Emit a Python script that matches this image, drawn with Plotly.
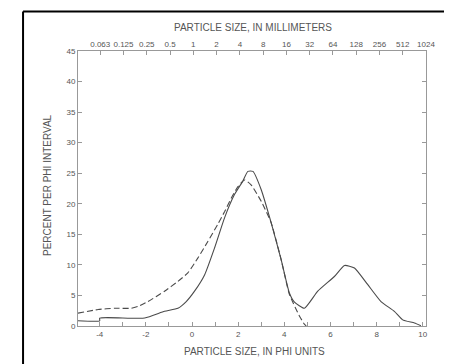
import plotly.graph_objects as go

# Sample with bimodal distribution (solid)
solid_phi = [-4.94, -4.0, -4.0, -2.05, -1.19, -0.61, -0.25, 0.11, 0.55, 0.98, 1.41, 1.84, 2.20,
             2.42, 2.64, 3.0, 3.43, 3.86, 4.22, 4.44, 4.87, 5.45, 6.17, 6.61, 7.04, 7.61,
             8.19, 8.77, 9.13, 9.64, 9.92]
solid_pct = [0.85, 0.85, 1.3, 1.3, 2.4, 2.9, 4.0, 5.7, 8.4, 12.8, 17.7, 21.5, 23.7,
             25.3, 25.3, 22.3, 16.9, 10.9, 5.4, 3.9, 2.9, 5.7, 8.1, 9.9, 9.5, 6.8,
             4.0, 2.4, 1.0, 0.5, 0.05]

# Sample with unimodal distribution (dashed)
dash_phi = [-4.94, -4.07, -3.35, -2.63, -2.34, -1.91, -1.19, -0.61, -0.18, 0.25, 0.68, 1.11,
            1.41, 1.70, 1.99, 2.28, 2.56, 3.0, 3.43, 3.86, 4.22, 4.66, 4.87, 4.95]
dash_pct = [2.1, 2.7, 2.9, 2.9, 3.2, 4.0, 5.7, 7.3, 8.7, 11.1, 13.8, 16.6,
            18.7, 20.9, 22.8, 23.9, 23.1, 20.4, 16.9, 10.9, 5.2, 1.6, 0.3, 0.0]

mm_labels = ["0.063", "0.125", "0.25", "0.5", "1", "2", "4", "8", "16", "32",
             "64", "128", "256", "512", "1024"]
mm_positions = list(range(len(mm_labels)))

y_ticks = [0, 5, 10, 15, 20, 25, 30, 35, 40, 45]

FONT = "Liberation Sans, Arial, sans-serif"
TXT = "#555555"
AX = "#999999"
LINE = "#4a4a4a"

fig = go.Figure()
fig.add_trace(go.Scatter(x=solid_phi, y=solid_pct, mode="lines",
                         line=dict(color=LINE, width=1.1, shape="spline", smoothing=0.5),
                         showlegend=False))
fig.add_trace(go.Scatter(x=dash_phi, y=dash_pct, mode="lines",
                         line=dict(color=LINE, width=1.1, dash="6px,3px", shape="spline", smoothing=0.5),
                         showlegend=False))
# invisible trace to activate top axis
fig.add_trace(go.Scatter(x=[mm_positions[0]], y=[0], xaxis="x2", mode="markers",
                         marker=dict(opacity=0), showlegend=False, hoverinfo="skip"))

fig.update_layout(
    width=452, height=364,
    margin=dict(l=70, r=34, t=43, b=46),
    paper_bgcolor="white", plot_bgcolor="white",
    font=dict(family=FONT, size=8, color=TXT),
    xaxis=dict(range=[-4.94, 10.14], tickmode="array",
               tickvals=[-4, -2, 0, 2, 4, 6, 8, 10],
               ticktext=["-4", "-2", "0", "2", "4", "6", "8", "10"],
               ticks="inside", ticklen=4, tickcolor=AX,
               minor=dict(tickvals=[-3, -1, 1, 3, 5, 7, 9], ticks="inside", ticklen=4, tickcolor=AX),
               showline=True, linecolor=AX, linewidth=1, mirror=False,
               showgrid=False, zeroline=False,
               tickfont=dict(size=8, color=TXT)),
    xaxis2=dict(overlaying="x", side="top", range=[-0.956, 14.0],
                tickmode="array", tickvals=mm_positions, ticktext=mm_labels,
                ticks="inside", ticklen=4, tickcolor=AX,
                showline=True, linecolor=AX, linewidth=1,
                showgrid=False, zeroline=False,
                tickfont=dict(size=8, color=TXT)),
    yaxis=dict(range=[0, 45], tickmode="array", tickvals=y_ticks,
               ticks="inside", ticklen=4, tickcolor=AX,
               showline=True, linecolor=AX, linewidth=1, mirror="ticks",
               showgrid=False, zeroline=False,
               tickfont=dict(size=8, color=TXT)),
    annotations=[
        dict(text="PARTICLE SIZE, IN MILLIMETERS", xref="paper", yref="paper",
             x=(245 - 70) / 348.3, y=(318.3 - 19) / 275.6, showarrow=False,
             font=dict(size=10, color=TXT), xanchor="center", yanchor="middle"),
        dict(text="PARTICLE SIZE, IN PHI UNITS", xref="paper", yref="paper",
             x=(247 - 70) / 348.3, y=(318.3 - 344) / 275.6, showarrow=False,
             font=dict(size=10, color=TXT), xanchor="center", yanchor="middle"),
        dict(text="PERCENT PER PHI INTERVAL", xref="paper", yref="paper",
             x=(39 - 70) / 348.3, y=(318.3 - 177) / 275.6, showarrow=False, textangle=-90,
             font=dict(size=10, color=TXT), xanchor="center", yanchor="middle"),
    ],
    shapes=[
        dict(type="line", xref="paper", yref="paper",
             x0=(15 - 70) / 348.3, x1=(15 - 70) / 348.3,
             y0=(318.3 - 3) / 275.6, y1=(318.3 - 366) / 275.6,
             line=dict(color="black", width=2)),
        dict(type="line", xref="paper", yref="paper",
             x0=(15 - 70) / 348.3, x1=(454 - 70) / 348.3,
             y0=(318.3 - 3) / 275.6, y1=(318.3 - 3) / 275.6,
             line=dict(color="black", width=2)),
    ],
)

fig.write_html("out.html")
